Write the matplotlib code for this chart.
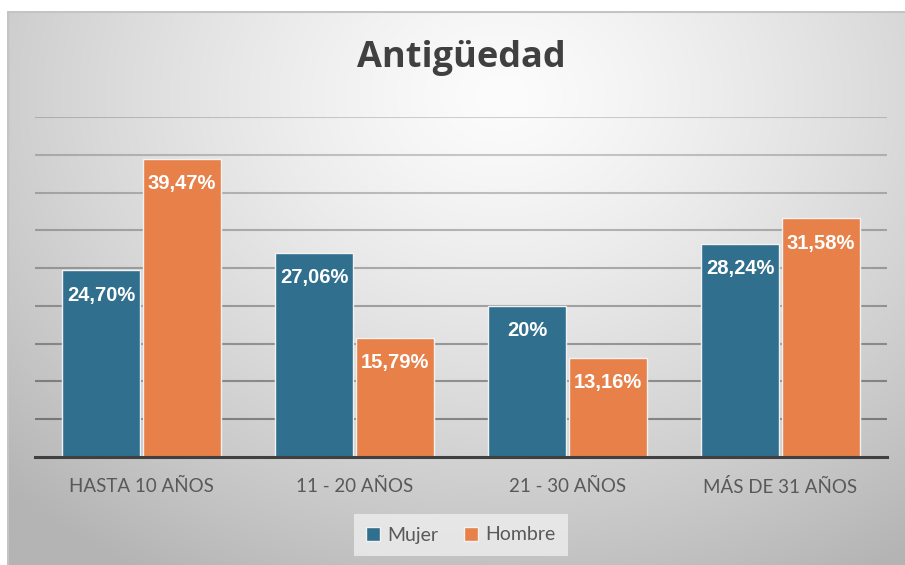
#!/usr/bin/env python3

import matplotlib
import matplotlib.pyplot as plt
import numpy as np

matplotlib.use('Agg')

categorias = ["HASTA 10 AÑOS", "11 - 20 AÑOS", "21 - 30 AÑOS", "MÁS DE 31 AÑOS"]
mujer = [24.70, 27.06, 20.0, 28.24]
hombre = [39.47, 15.79, 13.16, 31.58]
etiquetas_mujer = ["24,70%", "27,06%", "20%", "28,24%"]
etiquetas_hombre = ["39,47%", "15,79%", "13,16%", "31,58%"]

color_mujer = "#306F8E"
color_hombre = "#E8804A"

W, H = 905, 565
fig = plt.figure(figsize=(W / 100, H / 100), dpi=100)
fig.patch.set_facecolor("white")


def drawBackground():
    # marco del grafico con degradado radial
    bg = fig.add_axes([7 / W, 0, (W - 7) / W, (H - 11) / H])
    yy, xx = np.mgrid[0:1:300j, 0:1:480j]
    r = np.sqrt(((xx - 0.55) / 0.7) ** 2 + ((yy - 0.15) / 0.9) ** 2)
    img = 252 - 62 * np.clip(r, 0, 1.3) ** 1.3
    img = np.clip(img, 180, 255) / 255
    bg.imshow(np.dstack([img, img, img]), aspect="auto", extent=[0, 1, 1, 0])
    bg.set_xlim(0, 1)
    bg.set_ylim(1, 0)
    bg.axis("off")
    bg.plot([0, 1], [0.999, 0.999], color="#c4c4c4", lw=1.5, transform=bg.transAxes)
    bg.plot([0.001, 0.001], [0, 1], color="#c4c4c4", lw=1.5, transform=bg.transAxes)


def drawBars():
    ax = fig.add_axes([35 / W, (H - 457) / H, (887 - 35) / W, (457 - 117) / H])
    ax.set_facecolor("none")
    x = np.arange(len(categorias))
    ancho = 0.37
    b1 = ax.bar(x - ancho / 2 - 0.005, mujer, ancho, color=color_mujer,
                edgecolor="#f2f2f2", linewidth=1, zorder=3, label="Mujer")
    b2 = ax.bar(x + ancho / 2 + 0.005, hombre, ancho, color=color_hombre,
                edgecolor="#f2f2f2", linewidth=1, zorder=3, label="Hombre")

    for rects, labels in [(b1, etiquetas_mujer), (b2, etiquetas_hombre)]:
        for rect, lab in zip(rects, labels):
            ax.annotate(lab, (rect.get_x() + rect.get_width() / 2, rect.get_height()),
                        xytext=(0, -25), textcoords="offset pixels",
                        ha="center", va="center", color="white", fontsize=14.5,
                        fontweight="bold", family="Liberation Sans", zorder=4)

    ax.set_xlim(-0.5, 3.5)
    ax.set_ylim(0, 45)
    ax.set_yticks(np.arange(5, 46, 5))
    ax.yaxis.grid(True, color="black", linewidth=1.5, zorder=0)
    # lineas mas oscuras hacia abajo
    for i, gl in enumerate(ax.get_ygridlines()):
        gl.set_alpha(0.38 - 0.026 * i)
    ax.set_yticklabels([])
    ax.tick_params(axis="y", length=0)
    ax.set_xticks(x)
    ax.set_xticklabels(categorias, fontsize=13.5, color="#595959", family="Lato")
    ax.tick_params(axis="x", length=0, pad=15)
    for s in ["top", "right", "left"]:
        ax.spines[s].set_visible(False)
    ax.spines["bottom"].set_color("#404040")
    ax.spines["bottom"].set_linewidth(2.2)
    ax.spines["bottom"].set_zorder(5)

    leg = fig.legend(handles=[b1, b2], loc="center", bbox_to_anchor=(461 / W, (H - 535) / H),
                     ncol=2, frameon=True, handlelength=0.7, handleheight=0.7,
                     handletextpad=0.4, columnspacing=1.3, borderpad=0.65,
                     prop={"family": "Lato", "size": 14})
    leg.get_frame().set_facecolor("#eeeeee")
    leg.get_frame().set_edgecolor("none")
    leg.get_frame().set_alpha(0.8)
    leg.get_frame().set_boxstyle("square", pad=0.0)
    for t in leg.get_texts():
        t.set_color("#595959")


drawBackground()
drawBars()
fig.text(461 / W, (H - 58) / H, "Antigüedad", ha="center", va="center",
         fontsize=26, fontweight="bold", color="#404040", family="Open Sans")

fig.savefig("out.png", dpi=100)
